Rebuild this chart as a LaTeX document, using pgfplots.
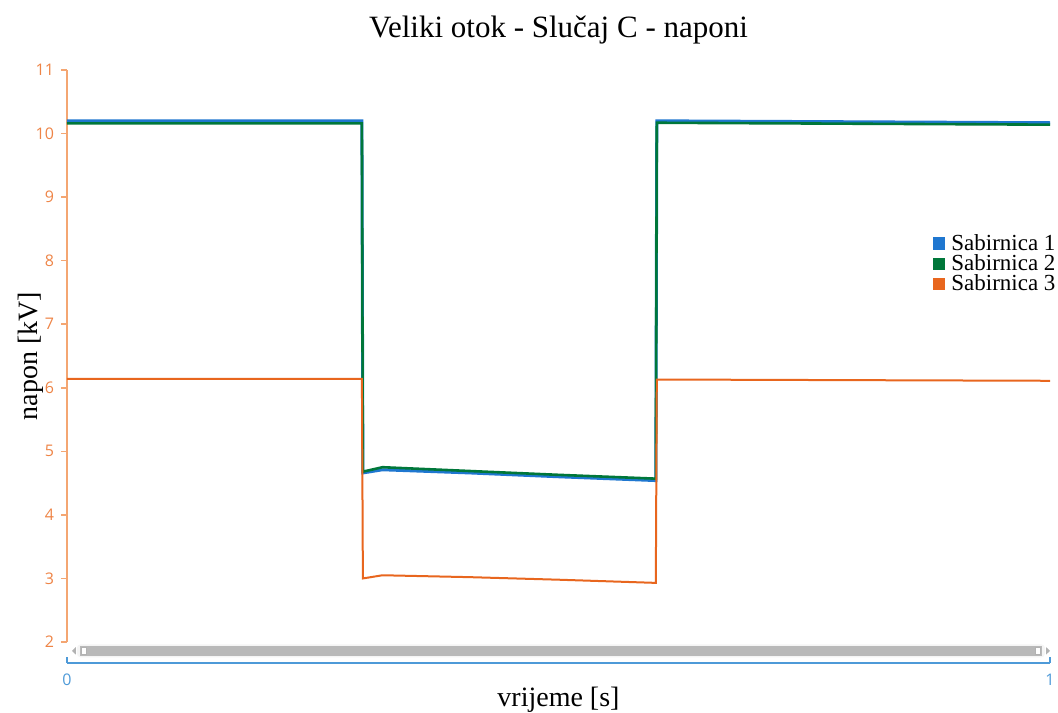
\documentclass[border=0pt]{standalone}
\usepackage{pgfplots}
\pgfplotsset{compat=1.18}
\usepackage{fontspec}
\setmainfont{Liberation Serif}
\setsansfont{Open Sans}
\definecolor{s1}{HTML}{1F77D0}
\definecolor{s2}{HTML}{00773A}
\definecolor{s3}{HTML}{E8661E}
\definecolor{yax}{HTML}{F4A672}
\definecolor{ytl}{HTML}{EE8446}
\definecolor{xax}{HTML}{4E9AD8}
\begin{document}
\begin{tikzpicture}
\begin{axis}[
    name=main,
    scale only axis,
    width=491.5pt, height=286pt,
    xmin=0, xmax=1, ymin=2, ymax=11,
    axis y line*=left,
    axis x line=none,
    ytick={2,...,11},
    tick align=outside,
    major tick length=3pt,
    axis line style={yax, line width=0.8pt, -},
    tick style={yax, line width=0.8pt},
    yticklabel style={ytl, font=\sffamily\fontsize{8}{9}\selectfont},
    /pgf/number format/assume math mode=true,
    ylabel={napon [kV]},
    ylabel style={font=\fontsize{14}{16}\selectfont, yshift=-11pt},
    title={Veliki otok - Slučaj C - naponi},
    title style={font=\fontsize{15.5}{18}\selectfont, yshift=3.5pt},
    clip=false,
    legend style={at={(1.008,0.717)}, anchor=north east, draw=none, fill=none,
        inner sep=0pt, font=\fontsize{11.5}{12}\selectfont, row sep=-1.4pt,
        nodes={inner sep=1pt}},
    legend cell align=left,
    legend image code/.code={\fill[#1] (0pt,-2.4pt) rectangle (4.8pt,2.4pt);},
    ]
\addplot[s1, line width=1.5pt] coordinates {
 (0,10.20) (0.300,10.20) (0.301,4.66) (0.321,4.71) (0.41,4.66) (0.5,4.60) (0.599,4.54) (0.600,10.20) (1,10.17)};
\addlegendentry{\hspace{2pt}Sabirnica 1}
\addplot[s2, line width=1.3pt] coordinates {
 (0,10.16) (0.300,10.16) (0.301,4.68) (0.321,4.75) (0.41,4.69) (0.5,4.63) (0.599,4.57) (0.600,10.17) (1,10.14)};
\addlegendentry{\hspace{2pt}Sabirnica 2}
\addplot[s3, line width=1pt] coordinates {
 (0,6.14) (0.300,6.14) (0.301,3.00) (0.321,3.05) (0.41,3.02) (0.5,2.98) (0.599,2.93) (0.600,6.13) (1,6.11)};
\addlegendentry{\hspace{2pt}Sabirnica 3}
% scrollbar
\fill[gray!8, rounded corners=2pt] (rel axis cs:0.010,-0.004) rectangle (rel axis cs:0.995,-0.027);
\fill[gray!55] (rel axis cs:0.013,-0.007) rectangle (rel axis cs:0.992,-0.024);
\fill[white, draw=gray!60, line width=0.3pt] (rel axis cs:0.015,-0.010) rectangle (rel axis cs:0.020,-0.021);
\fill[white, draw=gray!60, line width=0.3pt] (rel axis cs:0.985,-0.010) rectangle (rel axis cs:0.990,-0.021);
\fill[gray!60] (rel axis cs:0.005,-0.0155) -- (rel axis cs:0.009,-0.009) -- (rel axis cs:0.009,-0.022) -- cycle;
\fill[gray!60] (rel axis cs:1.000,-0.0155) -- (rel axis cs:0.996,-0.009) -- (rel axis cs:0.996,-0.022) -- cycle;
\end{axis}
\begin{axis}[
    at={(main.south west)}, anchor=south west, yshift=-10.5pt,
    scale only axis,
    width=491.5pt, height=1pt,
    xmin=0, xmax=1, ymin=0, ymax=1,
    axis x line*=bottom,
    axis y line=none,
    xtick={0,1},
    tick align=inside,
    major tick length=3pt,
    axis line style={xax, line width=0.8pt, -},
    tick style={xax, line width=0.8pt},
    xticklabel style={xax, font=\sffamily\fontsize{8}{9}\selectfont, yshift=-2pt},
    /pgf/number format/assume math mode=true,
    xlabel={vrijeme [s]},
    xlabel style={font=\fontsize{14}{16}\selectfont, yshift=6pt},
    ]
\end{axis}
\pgfresetboundingbox
\path ([xshift=-33.5pt,yshift=-35.5pt]main.south west) rectangle ([xshift=4pt,yshift=35pt]main.north east);
\end{tikzpicture}
\end{document}
